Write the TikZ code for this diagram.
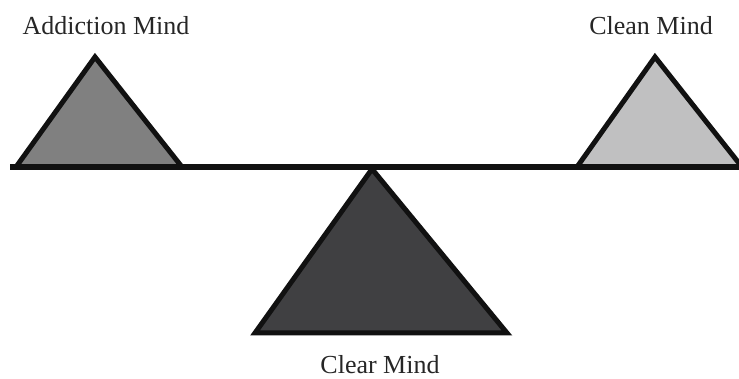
\documentclass[tikz,border=0pt]{standalone}
\usepackage{fontspec}
\setmainfont{Liberation Serif}
\usetikzlibrary{positioning}
\definecolor{addictg}{HTML}{808080}
\definecolor{cleang}{HTML}{C0C0C1}
\definecolor{clearg}{HTML}{404042}
\definecolor{inkblk}{HTML}{111111}
\tikzset{
  beam/.style   = {draw=inkblk, line width=6pt},
  tri/.style    = {draw=inkblk, line width=5pt, miter limit=20},
  mindlab/.style= {font=\fontsize{26}{30}\selectfont, text=black!85,
                   inner sep=0pt, anchor=base},
}
\begin{document}
\begin{tikzpicture}[x=1pt, y=1pt]
  \useasboundingbox (0,0) rectangle (739,379);
  \node[mindlab] (addict) at (106,344) {Addiction Mind};
  \node[mindlab] (clean)  at (651,344) {Clean Mind};
  \node[mindlab] (clear)  at (380,5)   {Clear Mind};
  \begin{scope}
    \clip (0,0) rectangle (739,379);
    % fulcrum
    \filldraw[tri, fill=clearg] (372,210) -- (507,46) -- (255,46) -- cycle;
    % the two weights
    \filldraw[tri, fill=addictg] (16,212) -- (95,322) -- (182,212) -- cycle;
    \filldraw[tri, fill=cleang] (577,212) -- (655,322) -- (742,212) -- cycle;
    \draw[beam] (10,212) -- (745,212);
  \end{scope}
\end{tikzpicture}
\end{document}
